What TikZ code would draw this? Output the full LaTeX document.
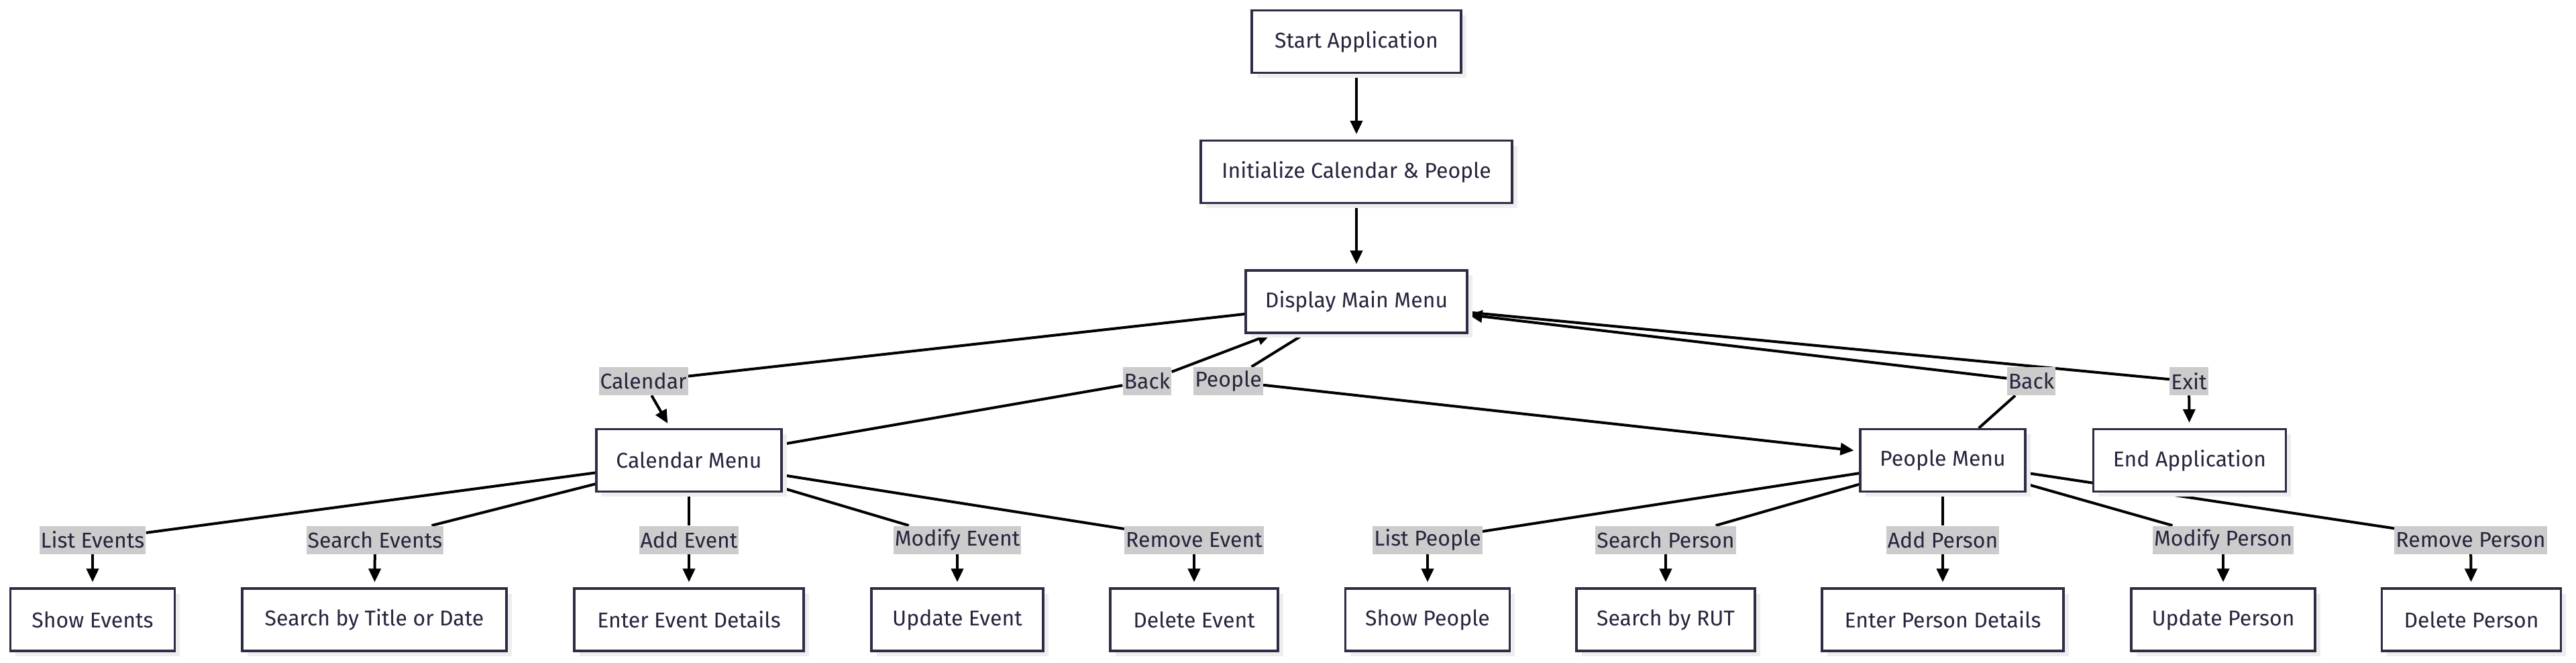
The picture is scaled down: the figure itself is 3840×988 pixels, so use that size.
\documentclass[tikz,border=0pt]{standalone}
\usepackage{fontspec}
\setmainfont{Fira Sans}
\usetikzlibrary{arrows.meta,shadows}
\definecolor{boxline}{HTML}{2D2D46}
\definecolor{txt}{HTML}{25253D}
\definecolor{lblbg}{HTML}{CCCCCC}
\definecolor{shad}{HTML}{EEEEEE}
\pgfdeclarelayer{bg}
\pgfdeclarelayer{edges}
\pgfsetlayers{bg,edges,main}
\begin{document}
\begin{tikzpicture}[x=0.5pt,y=-0.5pt,
  box/.style={draw=boxline, line width=1.6pt, fill=white, text=txt,
    font=\fontsize{16}{19}\selectfont, minimum height=46.5pt, inner sep=0pt,
    drop shadow={shadow xshift=3.75pt, shadow yshift=-3.75pt, fill=shad, opacity=1}},
  lbl/.style={fill=lblbg, text=txt, font=\fontsize{16}{19}\selectfont,
    minimum height=21pt, inner xsep=1pt, inner ysep=0pt},
  edge/.style={line width=2pt, draw=black},
  arr/.style={edge, -{Triangle[length=10pt,width=9pt]}, shorten >=4pt},
  arrb/.style={edge, -{Triangle[length=10pt,width=9pt]}, shorten >=0.5pt}
]
\begin{pgfonlayer}{bg}
\fill[white] (0,0) rectangle (3840,988);
\end{pgfonlayer}
\useasboundingbox (0,0) rectangle (3840,988);

% main nodes
\node[box, minimum width=156pt] (start) at (2022,62) {Start Application};
\node[box, minimum width=232pt] (init) at (2022,256) {Initialize Calendar \& People};
\node[box, minimum width=165pt] (disp) at (2022,449.5) {Display Main Menu};
\node[box, minimum width=138pt] (calm) at (1027,686) {Calendar Menu};
\node[box, minimum width=123pt] (pplm) at (2896,686) {People Menu};
\node[box, minimum width=143.5pt] (endapp) at (3264,686) {End Application};

\node[box, minimum width=122.5pt] (showev) at (138,923.5) {Show Events};
\node[box, minimum width=197pt] (srchev) at (558,923.5) {Search by Title or Date};
\node[box, minimum width=171pt] (enterev) at (1027,923.5) {Enter Event Details};
\node[box, minimum width=128pt] (updev) at (1427,923.5) {Update Event};
\node[box, minimum width=125pt] (delev) at (1780,923.5) {Delete Event};
\node[box, minimum width=122.5pt] (showpp) at (2128,923.5) {Show People};
\node[box, minimum width=133pt] (rut) at (2483,923.5) {Search by RUT};
\node[box, minimum width=180pt] (enterpp) at (2896,923.5) {Enter Person Details};
\node[box, minimum width=137pt] (updpp) at (3314,923.5) {Update Person};
\node[box, minimum width=133.5pt] (delpp) at (3684,923.5) {Delete Person};

% edge labels
\node[lbl] (lcal) at (959,568) {Calendar};
\node[lbl] (lbackl) at (1710,568) {Back};
\node[lbl] (lppl) at (1831,568) {People};
\node[lbl] (lbackr) at (3028,568) {Back};
\node[lbl] (lexit) at (3263,568) {Exit};

\node[lbl] (llistev) at (138,804.5) {List Events};
\node[lbl] (lsrchev) at (559,804.5) {Search Events};
\node[lbl] (laddev) at (1027,804.5) {Add Event};
\node[lbl] (lmodev) at (1427,804.5) {Modify Event};
\node[lbl] (lremev) at (1780,804.5) {Remove Event};
\node[lbl] (llistpp) at (2128,804.5) {List People};
\node[lbl] (lsrchpp) at (2483,804.5) {Search Person};
\node[lbl] (laddpp) at (2896,804.5) {Add Person};
\node[lbl] (lmodpp) at (3314,804.5) {Modify Person};
\node[lbl] (lrempp) at (3683,804.5) {Remove Person};

\begin{pgfonlayer}{edges}
\draw[arr] (start) -- (init);
\draw[arr] (init) -- (disp);
\draw[edge] (disp) -- (lcal);
\draw[arr] (lcal) -- (calm);
\draw[edge] (disp) -- (lppl);
\draw[arr] (lppl) -- (pplm);
\draw[edge] (calm) -- (lbackl);
\draw[arrb] (lbackl) -- (disp);
\draw[edge] (pplm) -- (lbackr);
\draw[arrb] (lbackr) -- (disp);
\draw[edge] (disp) -- (lexit);
\draw[arr] (lexit) -- (endapp);

\draw[edge] (calm) -- (llistev);
\draw[arr] (llistev) -- (showev);
\draw[edge] (calm) -- (lsrchev);
\draw[arr] (lsrchev) -- (srchev);
\draw[edge] (calm) -- (laddev);
\draw[arr] (laddev) -- (enterev);
\draw[edge] (calm) -- (lmodev);
\draw[arr] (lmodev) -- (updev);
\draw[edge] (calm) -- (lremev);
\draw[arr] (lremev) -- (delev);

\draw[edge] (pplm) -- (llistpp);
\draw[arr] (llistpp) -- (showpp);
\draw[edge] (pplm) -- (lsrchpp);
\draw[arr] (lsrchpp) -- (rut);
\draw[edge] (pplm) -- (laddpp);
\draw[arr] (laddpp) -- (enterpp);
\draw[edge] (pplm) -- (lmodpp);
\draw[arr] (lmodpp) -- (updpp);
\draw[edge] (pplm) -- (lrempp);
\draw[arr] (lrempp) -- (delpp);
\end{pgfonlayer}
\end{tikzpicture}
\end{document}
